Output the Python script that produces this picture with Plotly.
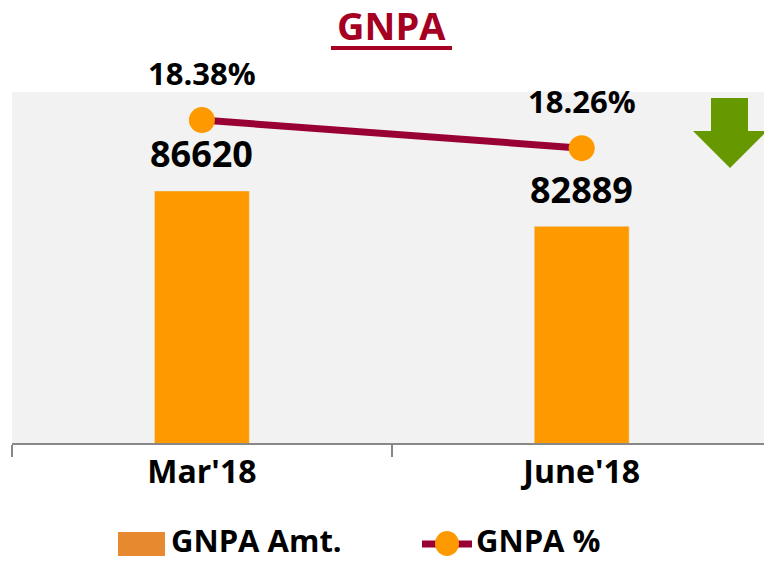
import plotly.graph_objects as go

categories = ["Mar'18", "June'18"]
gnpa_amt = [86620, 82889]
gnpa_pct = [18.38, 18.26]
amt_labels = ["86620", "82889"]
pct_labels = ["18.38%", "18.26%"]

W, H = 764, 561
L, R, T, B = 12, 0, 92, 118
PW, PH = W - L - R, H - T - B

def px(x):
    return (x - L) / PW

def py(y):
    return (H - B - y) / PH

FONT = "Open Sans, Lato, sans-serif"

fig = go.Figure()
fig.add_trace(go.Bar(x=categories, y=gnpa_amt, width=0.25, marker_color="#FF9900",
                     name="GNPA Amt.", showlegend=False, yaxis="y"))
fig.add_trace(go.Scatter(x=categories, y=gnpa_pct, mode="lines+markers", name="GNPA %",
                         line=dict(color="#990033", width=7),
                         marker=dict(color="#FF9900", size=26), showlegend=False, yaxis="y2"))

ann = []
for c, v, t in zip(categories, gnpa_amt, amt_labels):
    ann.append(dict(x=c, y=v, xref="x", yref="y", text=t, showarrow=False, yshift=37,
                    font=dict(family=FONT, size=36, color="black", weight="bold")))
for c, v, t in zip(categories, gnpa_pct, pct_labels):
    ann.append(dict(x=c, y=v, xref="x", yref="y2", text=t, showarrow=False, yshift=47,
                    font=dict(family=FONT, size=31, color="black", weight="bold")))
# title
ann.append(dict(x=px(391), y=py(25), xref="paper", yref="paper", text="GNPA", showarrow=False,
                xanchor="center", yanchor="middle",
                font=dict(family=FONT, size=38, color="#A50021", weight="bold")))
# legend texts
ann.append(dict(x=px(170), y=py(540), xref="paper", yref="paper", text="GNPA Amt.", showarrow=False,
                xanchor="left", yanchor="middle", borderpad=0,
                font=dict(family=FONT, size=31, color="black", weight="bold")))
ann.append(dict(x=px(475), y=py(540), xref="paper", yref="paper", text="GNPA %", showarrow=False,
                xanchor="left", yanchor="middle", borderpad=0,
                font=dict(family=FONT, size=31, color="black", weight="bold")))

shapes = [
    # title underline
    dict(type="line", xref="paper", yref="paper", x0=px(331), x1=px(452), y0=py(48), y1=py(48),
         line=dict(color="#A50021", width=4)),
    # legend bar swatch
    dict(type="rect", xref="paper", yref="paper", x0=px(118), x1=px(165), y0=py(556), y1=py(532),
         fillcolor="#E6892F", line=dict(width=0)),
    # legend line swatch
    dict(type="line", xref="paper", yref="paper", x0=px(422), x1=px(472), y0=py(544), y1=py(544),
         line=dict(color="#990033", width=7)),
    dict(type="circle", xref="paper", yref="paper", x0=px(435), x1=px(459), y0=py(556), y1=py(531),
         fillcolor="#FF9900", line=dict(width=0)),
]
# green down arrow
pts = [(711, 98), (748, 98), (748, 131), (767, 131), (730, 168), (693, 131), (711, 131)]
path = "M " + " L ".join(f"{px(x):.5f},{py(y):.5f}" for x, y in pts) + " Z"
shapes.append(dict(type="path", xref="paper", yref="paper", path=path,
                   fillcolor="#669900", line=dict(width=0)))

fig.update_layout(
    width=W, height=H,
    margin=dict(l=L, r=R, t=T, b=B, pad=0),
    paper_bgcolor="white", plot_bgcolor="#F2F2F2",
    showlegend=False,
    xaxis=dict(type="category", range=[-0.5, 1.48], tickson="boundaries", ticks="outside",
               ticklen=12, tickwidth=2, tickcolor="#888888", showline=True, linecolor="#888888",
               linewidth=2, showgrid=False, zeroline=False,
               tickfont=dict(family=FONT, size=32, color="black", weight="bold")),
    yaxis=dict(range=[60000, 97070], visible=False, showgrid=False),
    yaxis2=dict(range=[17.0, 18.5], overlaying="y", visible=False, showgrid=False),
    annotations=ann, shapes=shapes,
)
fig.write_html("out.html", config={"displayModeBar": False},
               post_script="document.body.style.margin='0';document.body.style.overflow='hidden';")
